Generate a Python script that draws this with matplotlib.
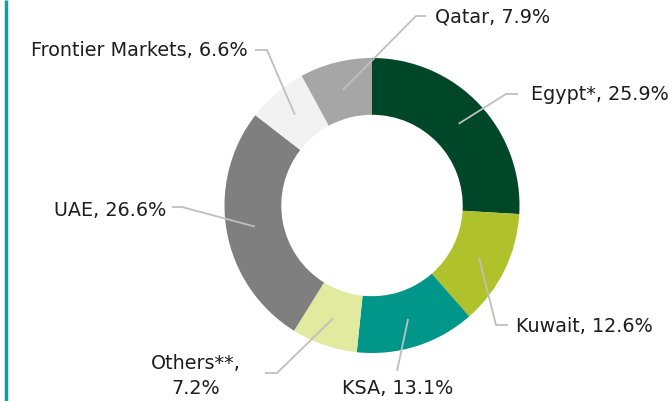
import numpy as np
import matplotlib
matplotlib.use("Agg")
import matplotlib.pyplot as plt

# data
countries = ["Egypt*", "Kuwait", "KSA", "Others**", "UAE", "Frontier Markets", "Qatar"]
shares = [25.9, 12.6, 13.1, 7.2, 26.6, 6.6, 7.9]
label_texts = ["Egypt*, 25.9%", "Kuwait, 12.6%", "KSA, 13.1%", "Others**,\n7.2%",
               "UAE, 26.6%", "Frontier Markets, 6.6%", "Qatar, 7.9%"]
colors = ["#00472A", "#AFC22B", "#00968A", "#E2EA9F", "#7F7F7F", "#F2F2F2", "#A6A6A6"]

W, H = 672, 401
fig = plt.figure(figsize=(W / 100, H / 100), dpi=100)
ax = fig.add_axes([0, 0, 1, 1])

def Y(y):
    # pixel row (from top) -> data y
    return H - y

cx, cy = 372, Y(205.5)
r_out = 147.5
ring = 0.385

wedges, _ = ax.pie(shares, colors=colors, startangle=90, counterclock=False,
                   radius=r_out, center=(cx, cy), frame=True,
                   wedgeprops=dict(width=r_out * ring, linewidth=0))
ax.set_xlim(0, W)
ax.set_ylim(0, H)
ax.set_aspect("equal")
ax.axis("off")

# leader layout: (elbow, end, text pos, ha, va)
layout = [
    ((506, 94), (518, 94), (531, 95), "left", "center"),
    ((496, 325), (508, 325), (516, 327), "left", "center"),
    ((408, 321), (397, 371), (398, 389), "center", "center"),
    ((277, 373), (265, 373), (196, 376), "center", "center"),
    ((182, 207), (172, 207), (166, 210), "right", "center"),
    ((267, 50), (255, 50), (248, 50), "right", "center"),
    ((416, 16), (426, 16), (435, 17), "left", "center"),
]

r_mid = r_out * (1 - ring / 2)
for i, w in enumerate(wedges):
    ang = np.deg2rad((w.theta1 + w.theta2) / 2)
    sx, sy = cx + r_mid * np.cos(ang), cy + r_mid * np.sin(ang)
    (ex, ey), (tx, ty), (lx, ly), ha, va = layout[i]
    if i == 2:
        # KSA: straight line down
        ax.plot([sx, tx], [sy, Y(ty)], color="#BFBFBF", lw=1.3, solid_capstyle="butt")
    else:
        ax.plot([sx, ex, tx], [sy, Y(ey), Y(ty)], color="#BFBFBF", lw=1.3,
                solid_capstyle="butt")
    ax.text(lx, Y(ly), label_texts[i], ha=ha, va=va, fontsize=13.8,
            color="#1E1E1E", linespacing=1.4, family="DejaVu Sans")

# teal rule on the left
ax.plot([5.5, 5.5], [0, H], color="#1A9AA0", lw=2.5, solid_capstyle="butt")

fig.savefig("out.png", dpi=100)
